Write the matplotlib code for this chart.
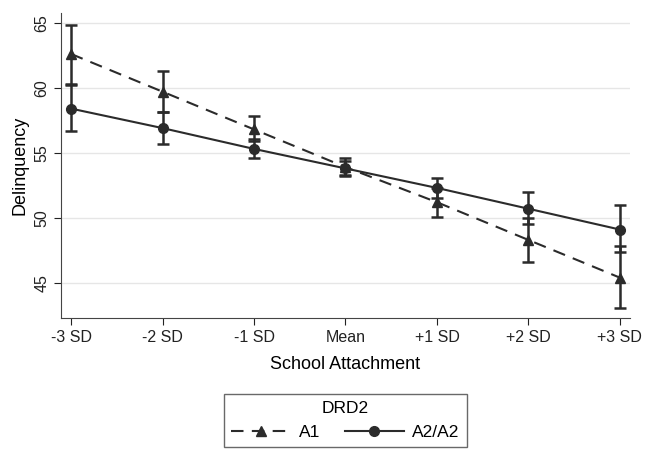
import matplotlib.pyplot as plt
import numpy as np

plt.rcParams['font.family'] = ['Liberation Sans', 'DejaVu Sans']

# Niveles de apego escolar
categorias = ['-3 SD', '-2 SD', '-1 SD', 'Mean', '+1 SD', '+2 SD', '+3 SD']

# Valores estimados de delincuencia por grupo
a1 = [62.6, 59.7, 56.8, 53.9, 51.2, 48.3, 45.4]
a1_bajo = [60.3, 58.1, 55.9, 53.2, 50.1, 46.6, 43.1]
a1_alto = [64.8, 61.3, 57.8, 54.6, 52.3, 50.0, 47.8]

a2 = [58.4, 56.9, 55.3, 53.8, 52.3, 50.7, 49.1]
a2_bajo = [56.7, 55.7, 54.6, 53.3, 51.5, 49.5, 47.4]
a2_alto = [60.2, 58.1, 56.1, 54.4, 53.1, 52.0, 51.0]

color = '#2b2b2b'
x = np.arange(len(categorias))

fig = plt.figure(figsize=(6.56, 4.49), dpi=100)
ax = fig.add_axes([61/656, 1-318/449, (630-61)/656, (318-13)/449])

def dibujar(y, lo, hi, ls, marker, label):
    y = np.array(y)
    err = [y - np.array(lo), np.array(hi) - y]
    ax.errorbar(x, y, yerr=err, fmt='none', ecolor=color, elinewidth=1.8,
                capsize=4, capthick=1.8, zorder=3)
    ax.plot(x, y, color=color, linestyle=ls, linewidth=1.5, marker=marker,
            markersize=7, dashes=(6, 4) if ls == '--' else (None, None),
            label=label, zorder=4)

dibujar(a1, a1_bajo, a1_alto, '--', '^', 'A1')
dibujar(a2, a2_bajo, a2_alto, '-', 'o', 'A2/A2')

ax.set_xlim(-0.11, 6.11)
ax.set_ylim(42.3, 65.75)
ax.set_xticks(x)
ax.set_xticklabels(categorias, fontsize=11.5)
ax.set_yticks([45, 50, 55, 60, 65])
ax.set_yticklabels(['45', '50', '55', '60', '65'], rotation=90, va='center', fontsize=11.5)
ax.grid(axis='y', color='#e6e6e6', linewidth=1)
ax.set_axisbelow(True)
for s in ['top', 'right']:
    ax.spines[s].set_visible(False)
for s in ['left', 'bottom']:
    ax.spines[s].set_color('#444444')
ax.tick_params(colors='#222222', length=5)
ax.set_xlabel('School Attachment', fontsize=13, labelpad=8)
ax.set_ylabel('Delinquency', fontsize=13, labelpad=4)

leg = fig.legend(loc='upper center', bbox_to_anchor=(0.5265, 1-394/449), ncol=2,
                 title='DRD2', fontsize=12.5, title_fontsize=12.5, frameon=True,
                 fancybox=False, edgecolor='#444444', handlelength=3.4,
                 handletextpad=0.5, columnspacing=1.4, borderpad=0.4,
                 borderaxespad=0)
leg.get_frame().set_linewidth(1)

plt.savefig('out.png', dpi=100)
